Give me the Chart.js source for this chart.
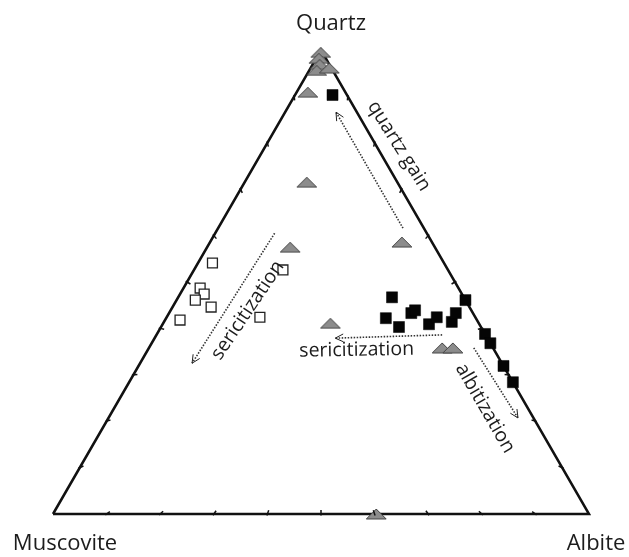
<!doctype html>
<html lang="en">
<head>
<meta charset="utf-8">
<title>Quartz - Muscovite - Albite ternary diagram</title>
<style>
  * { margin: 0; padding: 0; }
  body { background: #fff; }
  .chartBox { width: 629px; height: 557px; }
</style>
</head>
<body>
<div class="chartBox"><canvas id="myChart" width="629" height="557"></canvas></div>
<script src="https://cdn.jsdelivr.net/npm/chart.js"></script>
<script>
// compositions in percent: [quartz, muscovite, albite]
const grayTriangles = [
  [99.5, 0.3, 0.2], [98.2, 1.3, 0.5], [96.9, 1.8, 1.3], [95.6, 3.0, 1.4], [96.1, 0.4, 3.5],
  [90.9, 7.0, 2.1], [71.5, 16.9, 11.6], [58.6, 5.6, 35.8], [57.5, 27.0, 15.5],
  [41.1, 27.7, 31.2], [35.8, 9.5, 54.7], [35.8, 7.5, 56.7], [0, 39.7, 60.3]
];
const blackSquares = [
  [90.3, 2.7, 7.0], [46.7, 13.4, 39.9], [42.2, 16.8, 41.0], [40.3, 15.3, 44.4],
  [43.3, 11.5, 45.2], [43.9, 10.5, 45.6], [40.9, 9.4, 49.7], [42.4, 7.2, 50.4],
  [41.4, 4.9, 53.7], [43.3, 3.2, 53.5], [46.1, 0, 53.9], [38.8, 0, 61.2],
  [36.8, 0, 63.2], [31.9, 0, 68.1], [28.4, 0, 71.6]
];
const openSquares = [
  [54.1, 43.2, 2.7], [48.7, 48.2, 3.1], [47.4, 48.1, 4.5], [46.1, 50.4, 3.5],
  [44.6, 48.2, 7.2], [41.8, 55.4, 2.8], [42.4, 40.2, 17.4], [52.6, 30.8, 16.6]
];
const corners = [[0, 100, 0], [0, 0, 100], [100, 0, 0], [0, 100, 0]];
const tickSteps = [10, 20, 30, 40, 50, 60, 70, 80, 90];
// trend arrows: start, end (arrowhead at end)
const arrowQuartzGain = [[61.6, 3.9, 34.5], [86.6, 3.9, 9.5]];
const arrowSeriLeft = [[60.5, 28.4, 11.1], [32.5, 57.8, 9.7]];
const arrowSeriMid = [[38.6, 8.1, 53.3], [37.9, 28.4, 33.7]];
const arrowAlbit = [[35.8, 3.6, 60.6], [20.7, 2.9, 76.4]];
const arrows = [arrowQuartzGain, arrowSeriLeft, arrowSeriMid, arrowAlbit];

const H = Math.sqrt(3) / 2;
function toXY(c) {
  return { x: c[2] + c[0] / 2, y: c[0] * H };
}

function makeTriangle(w, h) {
  const c = document.createElement('canvas');
  c.width = w + 2; c.height = h + 2;
  const g = c.getContext('2d');
  g.beginPath();
  g.moveTo(1, h + 1); g.lineTo(w / 2 + 1, 1); g.lineTo(w + 1, h + 1); g.closePath();
  g.fillStyle = '#8c8c8c'; g.fill();
  g.strokeStyle = '#444'; g.lineWidth = 1; g.stroke();
  return c;
}
const triMarker = makeTriangle(20, 10);

const labels = [
  { text: 'Quartz', at: [100, 0, 0], dx: 10, dy: -20, rot: 0, size: 22, base: 'alphabetic' },
  { text: 'Muscovite', at: [0, 100, 0], dx: 12, dy: 36, rot: 0, size: 22, base: 'alphabetic' },
  { text: 'Albite', at: [0, 0, 100], dx: 7, dy: 36, rot: 0, size: 22, base: 'alphabetic' },
  { text: 'quartz gain', at: [79.3, -4.2, 24.9], dx: 0, dy: 0, rot: 58, size: 19.5, base: 'middle' },
  { text: 'sericitization', at: [43.9, 41.7, 14.4], dx: 0, dy: 0, rot: -56, size: 19.5, base: 'middle' },
  { text: 'sericitization', at: [35.3, 25.7, 39.0], dx: 0, dy: 0, rot: -1, size: 19.5, base: 'middle' },
  { text: 'albitization', at: [22.8, 8.0, 69.2], dx: 0, dy: 0, rot: 60, size: 19.5, base: 'middle' }
];

const ternaryDecor = {
  id: 'ternaryDecor',
  afterDatasetsDraw(chart) {
    const { ctx, scales: { x, y } } = chart;
    const px = c => { const p = toXY(c); return [x.getPixelForValue(p.x), y.getPixelForValue(p.y)]; };
    ctx.save();
    // edge ticks
    ctx.strokeStyle = '#111';
    ctx.lineWidth = 1.5;
    const edges = [
      { a: [0, 100, 0], b: [0, 0, 100] },
      { a: [0, 0, 100], b: [100, 0, 0] },
      { a: [100, 0, 0], b: [0, 100, 0] }
    ];
    const cen = px([33.3, 33.3, 33.4]);
    edges.forEach(e => {
      tickSteps.forEach(t => {
        const c = e.a.map((v, i) => v + (e.b[i] - v) * t / 100);
        const [tx, ty] = px(c);
        const dx = cen[0] - tx, dy = cen[1] - ty, d = Math.hypot(dx, dy);
        ctx.beginPath();
        ctx.moveTo(tx - dx / d * 1.5, ty - dy / d * 1.5);
        ctx.lineTo(tx + dx / d * 4, ty + dy / d * 4);
        ctx.stroke();
      });
    });
    // arrowheads
    ctx.lineWidth = 1;
    ctx.strokeStyle = '#222';
    arrows.forEach(a => {
      const [x0, y0] = px(a[0]);
      const [x1, y1] = px(a[1]);
      const ang = Math.atan2(y1 - y0, x1 - x0);
      ctx.beginPath();
      [0.45, -0.45].forEach(o => {
        ctx.moveTo(x1, y1);
        ctx.lineTo(x1 - 9 * Math.cos(ang + o), y1 - 9 * Math.sin(ang + o));
      });
      ctx.stroke();
    });
    // text
    ctx.fillStyle = '#1c1c1c';
    labels.forEach(l => {
      const [lx, ly] = px(l.at);
      ctx.save();
      ctx.translate(lx + l.dx, ly + l.dy);
      ctx.rotate(l.rot * Math.PI / 180);
      ctx.font = l.size + 'px "Open Sans", sans-serif';
      ctx.textAlign = 'center';
      ctx.textBaseline = l.base;
      ctx.fillText(l.text, 0, 0);
      ctx.restore();
    });
    ctx.restore();
  }
};

const arrowSets = arrows.map(a => ({
  type: 'scatter',
  data: a.map(toXY),
  showLine: true,
  borderColor: '#333',
  borderWidth: 1.6,
  borderDash: [1.5, 1.5],
  pointRadius: 0,
  clip: false,
  order: 5
}));

const data = {
  datasets: [
    {
      data: corners.map(toXY),
      showLine: true,
      borderColor: '#111',
      borderWidth: 2.5,
      pointRadius: 0,
      clip: false,
      order: 6
    },
    ...arrowSets,
    {
      data: grayTriangles.map(toXY),
      pointStyle: triMarker,
      clip: false,
      order: 3
    },
    {
      data: openSquares.map(toXY),
      pointStyle: 'rect',
      pointRadius: 7,
      backgroundColor: '#fff',
      borderColor: '#222',
      borderWidth: 1.3,
      clip: false,
      order: 2
    },
    {
      data: blackSquares.map(toXY),
      pointStyle: 'rect',
      pointRadius: 7.8,
      backgroundColor: '#050505',
      borderColor: '#050505',
      borderWidth: 0.5,
      clip: false,
      order: 1
    }
  ]
};

const config = {
  type: 'scatter',
  data,
  options: {
    responsive: false,
    animation: false,
    layout: { padding: { left: 53, right: 40, top: 50, bottom: 43 } },
    scales: {
      x: { type: 'linear', min: 0, max: 100, display: false },
      y: { type: 'linear', min: 0, max: 100 * H, display: false }
    },
    plugins: { legend: { display: false }, tooltip: { enabled: false } }
  },
  plugins: [ternaryDecor]
};

const myChart = new Chart(document.getElementById('myChart'), config);
</script>
</body>
</html>
